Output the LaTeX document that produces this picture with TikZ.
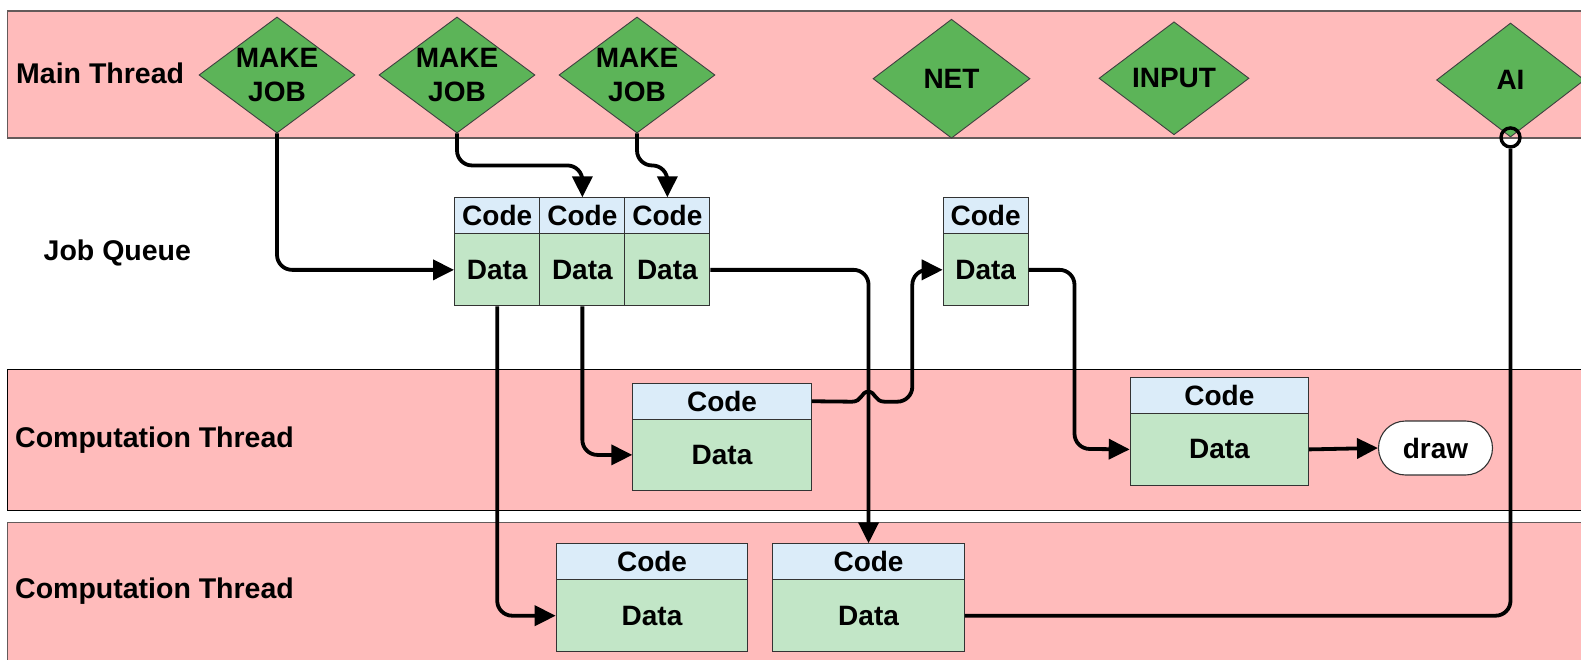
\documentclass[tikz,border=0pt]{standalone}
\usepackage{fontspec}
\setmainfont{Liberation Sans}
\usetikzlibrary{shapes.geometric,shapes.misc,arrows.meta}

\definecolor{bandpink}{RGB}{255,187,187}
\definecolor{jobgreen}{RGB}{92,180,88}
\definecolor{codeblue}{RGB}{219,236,249}
\definecolor{datagreen}{RGB}{194,230,199}
\definecolor{bandedge}{RGB}{100,90,90}

\tikzset{
  band/.style={fill=bandpink, draw=bandedge, line width=1.3pt},
  lbl/.style={font=\fontsize{28.5}{33}\selectfont\bfseries, anchor=west, inner sep=0pt},
  jobdia/.style={diamond, fill=jobgreen, draw=black!75, line width=0.9pt, inner sep=0pt},
  diatext/.style={font=\fontsize{28}{34}\selectfont\bfseries, align=center, inner sep=0pt},
  cell/.style={draw=black!80, line width=1.1pt, inner sep=0pt, anchor=north west,
    font=\fontsize{28}{33}\selectfont\bfseries},
  codecell/.style={cell, fill=codeblue, minimum height=36pt},
  datacell/.style={cell, fill=datagreen},
  flow/.style={line width=3.8pt, rounded corners=15pt,
    -{Triangle[length=21pt, width=20pt]}},
  plain/.style={line width=3.8pt, rounded corners=15pt},
  term/.style={rounded rectangle, fill=white, draw=black!80, line width=1.1pt,
    minimum width=114pt, minimum height=54pt, inner sep=0pt,
    font=\fontsize{28}{33}\selectfont\bfseries},
}

\begin{document}
\begin{tikzpicture}[x=1pt, y={(0pt,-1pt)}]
\useasboundingbox (0,0) rectangle (1581,660);

% swim lanes
\fill[white] (0,0) rectangle (1581,660);
\draw[band] (7.5,11) rectangle (1600,138);
\draw[band, draw=black] (7.5,369.3) rectangle (1600,510.7);
\draw[band] (7.5,522.7) rectangle (1600,680);

\node[lbl] (lmain) at (16,73) {Main Thread};
\node[lbl] (lqueue) at (43.5,253) {Job Queue};
\node[lbl] (lcomp1) at (15,440) {Computation Thread};
\node[lbl] (lcomp2) at (15,591) {Computation Thread};

% main thread tasks
\node[jobdia, minimum width=156pt, minimum height=116pt] (mj1) at (277,75) {};
\node[jobdia, minimum width=156pt, minimum height=116pt] (mj2) at (457,75) {};
\node[jobdia, minimum width=156pt, minimum height=116pt] (mj3) at (637,75) {};
\node[jobdia, minimum width=157pt, minimum height=119pt] (net) at (951.5,78.7) {};
\node[jobdia, minimum width=150pt, minimum height=113pt] (inp) at (1174,78.3) {};
\node[jobdia, minimum width=148pt, minimum height=114pt] (ai) at (1510.5,80) {};
\node[diatext] (mj1t) at (mj1) {MAKE\\JOB};
\node[diatext] (mj2t) at (mj2) {MAKE\\JOB};
\node[diatext] (mj3t) at (mj3) {MAKE\\JOB};
\node[diatext] (nett) at (net) {NET};
\node[diatext] (inpt) at (inp) {INPUT};
\node[diatext] (ait) at (ai) {AI};

% job queue
\node[codecell, minimum width=85.3pt] (q1c) at (454,197.3) {Code};
\node[datacell, minimum width=85.3pt, minimum height=72pt] (q1d) at (454,233.3) {Data};
\node[codecell, minimum width=85pt] (q2c) at (539.3,197.3) {Code};
\node[datacell, minimum width=85pt, minimum height=72pt] (q2d) at (539.3,233.3) {Data};
\node[codecell, minimum width=85pt] (q3c) at (624.3,197.3) {Code};
\node[datacell, minimum width=85pt, minimum height=72pt] (q3d) at (624.3,233.3) {Data};
\node[codecell, minimum width=84.8pt] (q4c) at (942.7,197.3) {Code};
\node[datacell, minimum width=84.8pt, minimum height=72pt] (q4d) at (942.7,233.3) {Data};

% first computation thread
\node[codecell, minimum width=178.4pt] (ac) at (632.3,382.7) {Code};
\node[datacell, minimum width=178.4pt, minimum height=71.3pt] (ad) at (632.3,418.7) {Data};
\node[codecell, minimum width=178.3pt] (bc) at (1129.7,376.7) {Code};
\node[datacell, minimum width=178.3pt, minimum height=72.3pt] (bd) at (1129.7,412.7) {Data};
\node[term] (drw) at (1435.5,448) {draw};

% second computation thread
\node[codecell, minimum width=191.6pt] (cc) at (555.7,543.3) {Code};
\node[datacell, minimum width=191.6pt, minimum height=71.7pt] (cd) at (555.7,579.3) {Data};
\node[codecell, minimum width=191.4pt] (dc) at (772.3,543.3) {Code};
\node[datacell, minimum width=191.4pt, minimum height=71.7pt] (dd) at (772.3,579.3) {Data};

% open circle on the AI task
\node[circle, draw=black, line width=3.4pt, minimum size=19pt, inner sep=0pt] (aitap) at (ai.south) {};

% connectors
\draw[flow] (mj1.south) |- (q1d.west);
\draw[flow] (mj2.south) -- ++(0,32) -| (q2c.north);
\draw[flow] (mj3.south) -- ++(0,32) -| (q3c.north);
\draw[flow] (q1d.south) |- (cd.west);
\draw[flow] (q2d.south) |- (ad.west);
\draw[flow] (q3d.east) -| (dc.north);
\draw[line width=3.8pt, -{Triangle[length=21pt, width=20pt]}]
  (ac.east) -- (852,401.7)
  .. controls (862,401.7) and (861,391.7) .. (868.3,391.7)
  .. controls (875.6,391.7) and (874.6,401.7) .. (884.6,401.7)
  [rounded corners=15pt] -- (912.3,401.7) |- (q4d.west);
\draw[flow] (q4d.east) -| (1074.5,448.8) -- (bd.west);
\draw[flow] (bd.east) -- (drw.west);
\draw[plain] (dd.east) -| (aitap.south);

\end{tikzpicture}
\end{document}
